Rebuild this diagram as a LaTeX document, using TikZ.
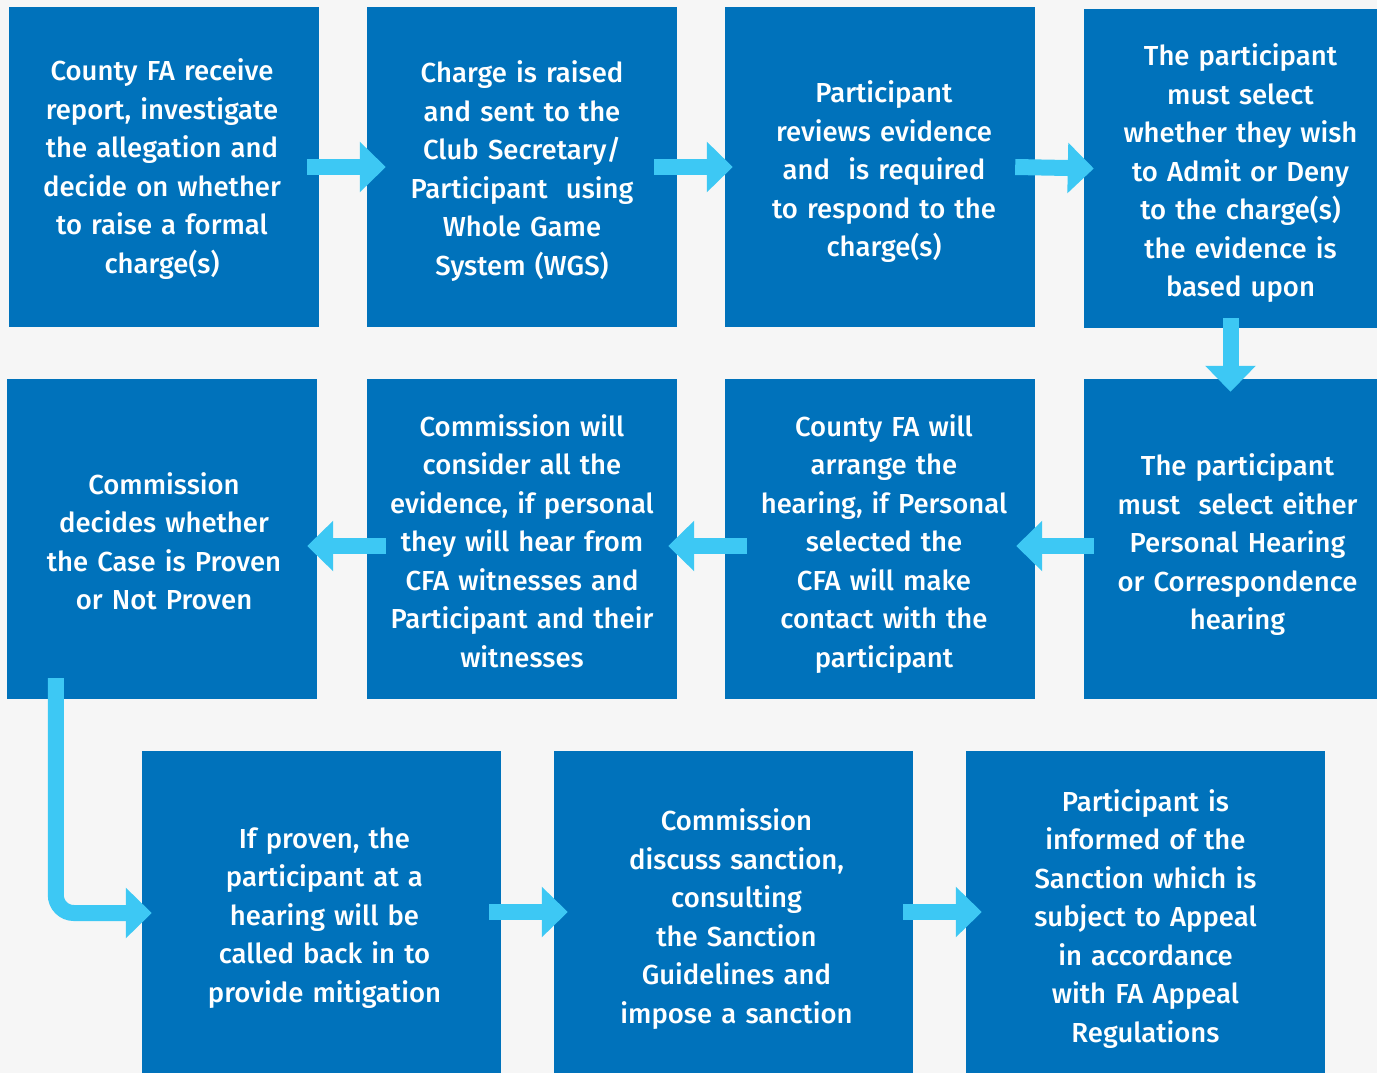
\documentclass[tikz,border=0pt]{standalone}
\usepackage{fontspec}
\setmainfont{Fira Sans Medium}
\usetikzlibrary{arrows.meta}
\definecolor{boxblue}{RGB}{0,114,187}
\definecolor{arrowcyan}{RGB}{61,200,244}
\definecolor{bggrey}{RGB}{246,246,246}
\tikzset{
  stepbox/.style={fill=boxblue, inner sep=0pt, minimum width=#1},
  steptext/.style={text=white, inner sep=0pt, align=center, text width=310pt,
    font=\fontsize{27.5}{38.5}\selectfont},
  flowarrow/.style={draw=arrowcyan, line width=16pt,
    -{Triangle[width=49pt,length=26pt]}, arrowcyan},
}
\begin{document}
\begin{tikzpicture}[x=1pt,y=-1pt]
\useasboundingbox (0,0) rectangle (1377,1073);
\fill[bggrey] (0,0) rectangle (1377,1073);
% boxes
\node[stepbox=310pt, minimum height=320pt] (b1) at (164,167) {};
\node[stepbox=310pt, minimum height=320pt] (b2) at (522,167) {};
\node[stepbox=310pt, minimum height=320pt] (b3) at (880,167) {};
\node[stepbox=293pt, minimum height=319pt] (b4) at (1230.5,168.5) {};
\node[stepbox=293pt, minimum height=320pt] (b8) at (1230.5,539) {};
\node[stepbox=310pt, minimum height=320pt] (b7) at (880,539) {};
\node[stepbox=310pt, minimum height=320pt] (b6) at (522,539) {};
\node[stepbox=310pt, minimum height=320pt] (b5) at (162,539) {};
\node[stepbox=359pt, minimum height=322pt] (b9) at (321.5,912) {};
\node[stepbox=359pt, minimum height=322pt] (b10) at (733.5,912) {};
\node[stepbox=359pt, minimum height=322pt] (b11) at (1145.5,912) {};
% texts
\node[steptext] (t1) at ([xshift=-2pt,yshift=-2pt]b1.center) {County FA receive\\report, investigate\\the allegation and\\decide on whether\\to raise a formal\\charge(s)};
\node[steptext] (t2) at ([yshift=-4pt]b2.center) {Charge is raised\\and sent to the\\Club Secretary/\\Participant~ using\\Whole Game\\System (WGS)};
\node[steptext] (t3) at ([xshift=4pt,yshift=-5pt]b3.center) {Participant\\reviews evidence\\and~ is required\\to respond to the\\charge(s)};
\node[steptext] (t4) at ([xshift=10pt,yshift=-5pt]b4.center) {The participant\\must select\\whether they wish\\to Admit or Deny\\to the charge(s)\\the evidence is\\based upon};
\node[steptext] (t8) at ([xshift=7pt,yshift=-6pt]b8.center) {The participant\\must~ select either\\Personal Hearing\\or Correspondence\\hearing};
\node[steptext] (t7) at ([xshift=4pt,yshift=-5pt]b7.center) {County FA will\\arrange the\\hearing, if Personal\\selected the\\CFA will make\\contact with the\\participant};
\node[steptext] (t6) at ([yshift=-2pt]b6.center) {Commission will\\consider all the\\evidence, if personal\\they will hear from\\CFA witnesses and\\Participant and their\\witnesses};
\node[steptext] (t5) at ([xshift=2pt,yshift=-2pt]b5.center) {Commission\\decides whether\\the Case is Proven\\or Not Proven};
\node[steptext] (t9) at ([xshift=3pt,yshift=-6pt]b9.center) {If proven, the\\participant at a\\hearing will be\\called back in to\\provide mitigation};
\node[steptext] (t10) at ([xshift=3pt,yshift=-7pt]b10.center) {Commission\\discuss sanction,\\consulting\\the Sanction\\Guidelines and\\impose a sanction};
\node[steptext] (t11) at ([yshift=-7pt]b11.center) {Participant is\\informed of the\\Sanction which is\\subject to Appeal\\in accordance\\with FA Appeal\\Regulations};
% arrows
\draw[flowarrow] ([xshift=-12pt]b1.east) -- ([xshift=19pt]b2.west);
\draw[flowarrow] ([xshift=-23pt]b2.east) -- ([xshift=8pt]b3.west);
\draw[flowarrow] ([xshift=-20pt]b3.east) -- ([xshift=10pt]b4.west);
\draw[flowarrow] ([yshift=10pt]b4.south) -- ([yshift=-13pt]b8.north);
\draw[flowarrow] ([xshift=10pt,yshift=-7pt]b8.west) -- ([xshift=-19pt,yshift=-7pt]b7.east);
\draw[flowarrow] ([xshift=22pt,yshift=-7pt]b7.west) -- ([xshift=-9pt,yshift=-7pt]b6.east);
\draw[flowarrow] ([xshift=19pt,yshift=-7pt]b6.west) -- ([xshift=-10pt,yshift=-7pt]b5.east);
\draw[flowarrow, rounded corners=18pt] ([xshift=49pt,yshift=21pt]b5.south west) |- ([xshift=10pt,yshift=-1pt]b9.west);
\draw[flowarrow] ([xshift=-12pt]b9.east) -- ([xshift=14pt]b10.west);
\draw[flowarrow] ([xshift=-10pt]b10.east) -- ([xshift=16pt]b11.west);
\end{tikzpicture}
\end{document}
